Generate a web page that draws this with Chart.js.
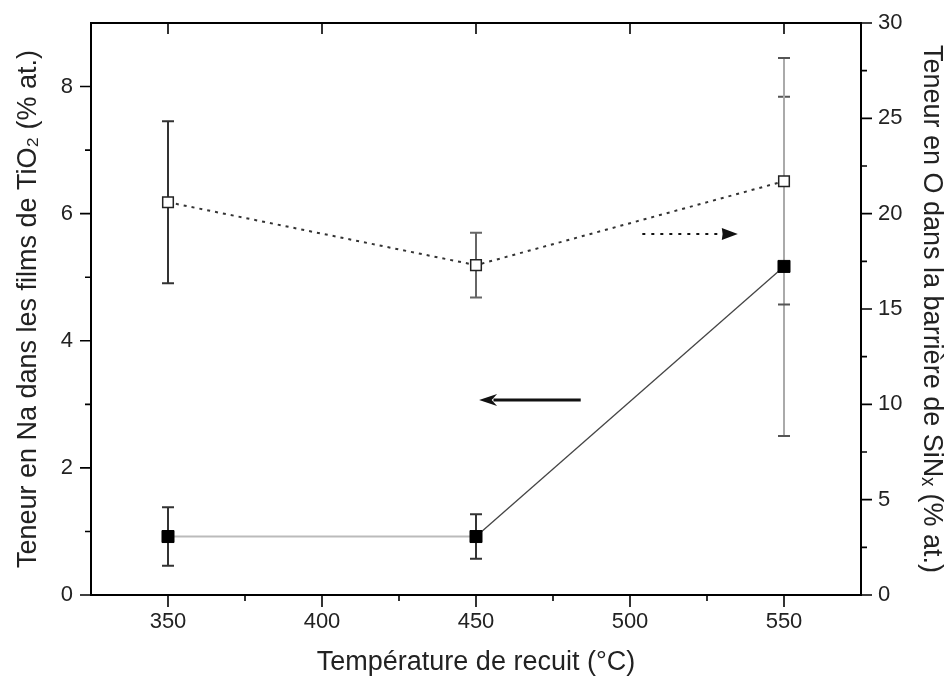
<!DOCTYPE html>
<html lang="fr">
<head>
    <meta charset="UTF-8">
    <title>Teneur en Na et O</title>
    <script src="https://cdn.jsdelivr.net/npm/chart.js"></script>
    <style>
        body { margin: 0; background: #fff; }
        #wrap { width: 949px; height: 682px; }
    </style>
</head>
<body>
    <div id="wrap"><canvas id="chart"></canvas></div>

    <script>
        // data
        var temps = [350, 450, 550];
        var naValues = [0.92, 0.92, 5.17];   // left axis, filled squares
        var naErrors = [0.46, 0.35, 2.67];
        var oValues = [20.6, 17.3, 21.7];    // right axis, open squares
        var oErrors = [4.25, 1.7, 6.47];

        // direction arrows (data coordinates: [x, y])
        var naArrow = [[484, 3.07], [451, 3.07]];
        var oArrow = [[504, 18.93], [535, 18.93]];

        // error bar colours
        var naErrColors = ['#333', '#333', '#aaa'];
        var oErrColors = ['#333', '#666', '#aaa'];

        var textColor = '#222';
        var fontName = '"Liberation Sans", Arial, sans-serif';

        function drawArrow(ctx, x0, y0, x1, y1, width, dash, headLen, headHalf, notch) {
            var dir = x1 > x0 ? 1 : -1;
            ctx.save();
            ctx.strokeStyle = '#111';
            ctx.fillStyle = '#111';
            ctx.lineWidth = width;
            ctx.setLineDash(dash);
            ctx.beginPath();
            ctx.moveTo(x0, y0);
            ctx.lineTo(x1 - dir * headLen * 0.8, y1);
            ctx.stroke();
            ctx.setLineDash([]);
            ctx.beginPath();
            ctx.moveTo(x1, y1);
            ctx.lineTo(x1 - dir * headLen, y1 - headHalf);
            ctx.lineTo(x1 - dir * headLen * notch, y1);
            ctx.lineTo(x1 - dir * headLen, y1 + headHalf);
            ctx.closePath();
            ctx.fill();
            ctx.restore();
        }

        function fixBox(w, h) {
            return function(s) {
                if (w) s.width = w;
                if (h) s.height = h;
                s.paddingTop = 0; s.paddingBottom = 0;
                s.paddingLeft = 0; s.paddingRight = 0;
            };
        }

        var extrasPlugin = {
            id: 'extras',
            beforeDatasetsDraw: function(chart) {
                var ctx = chart.ctx;
                var x = chart.scales.x;
                var bars = [
                    { scale: chart.scales.y, vals: naValues, errs: naErrors, colors: naErrColors },
                    { scale: chart.scales.y2, vals: oValues, errs: oErrors, colors: oErrColors }
                ];
                ctx.save();
                bars.forEach(function(b) {
                    temps.forEach(function(t, i) {
                        var px = x.getPixelForValue(t);
                        var top = b.scale.getPixelForValue(b.vals[i] + b.errs[i]);
                        var bot = b.scale.getPixelForValue(b.vals[i] - b.errs[i]);
                        ctx.strokeStyle = b.colors[i];
                        ctx.lineWidth = 2;
                        ctx.beginPath();
                        ctx.moveTo(px, top);
                        ctx.lineTo(px, bot);
                        ctx.stroke();
                        ctx.strokeStyle = i === 2 ? '#555' : b.colors[i];
                        ctx.beginPath();
                        ctx.moveTo(px - 6, top); ctx.lineTo(px + 6, top);
                        ctx.moveTo(px - 6, bot); ctx.lineTo(px + 6, bot);
                        ctx.stroke();
                    });
                });
                ctx.restore();
            },
            afterDraw: function(chart) {
                var ctx = chart.ctx;
                var area = chart.chartArea;
                var x = chart.scales.x, y = chart.scales.y, y2 = chart.scales.y2;
                ctx.save();
                ctx.strokeStyle = '#000';
                ctx.lineWidth = 2;
                // top frame
                ctx.beginPath();
                ctx.moveTo(area.left - 1, area.top);
                ctx.lineTo(area.right + 1, area.top);
                ctx.stroke();
                ctx.lineWidth = 1.6;
                ctx.beginPath();
                x.ticks.forEach(function(t) {
                    var px = x.getPixelForValue(t.value);
                    var major = t.value % 50 === 0;
                    if (t.value === x.min || t.value === x.max) return;
                    ctx.moveTo(px, area.bottom);
                    ctx.lineTo(px, area.bottom + (major ? 12 : 6));
                    if (major) {
                        ctx.moveTo(px, area.top);
                        ctx.lineTo(px, area.top + 11);
                    }
                });
                y.ticks.forEach(function(t) {
                    if (t.value === y.max) return;
                    var py = y.getPixelForValue(t.value);
                    var major = t.value % 2 === 0;
                    ctx.moveTo(area.left, py);
                    ctx.lineTo(area.left - (major ? 11 : 6), py);
                });
                y2.ticks.forEach(function(t) {
                    var py = y2.getPixelForValue(t.value);
                    var major = t.value % 5 === 0;
                    ctx.moveTo(area.right, py);
                    ctx.lineTo(area.right + (major ? 11 : 6), py);
                });
                ctx.stroke();
                ctx.restore();

                drawArrow(ctx, x.getPixelForValue(naArrow[0][0]), y.getPixelForValue(naArrow[0][1]),
                    x.getPixelForValue(naArrow[1][0]), y.getPixelForValue(naArrow[1][1]), 3, [], 18, 6, 0.7);
                drawArrow(ctx, x.getPixelForValue(oArrow[0][0]), y2.getPixelForValue(oArrow[0][1]),
                    x.getPixelForValue(oArrow[1][0]), y2.getPixelForValue(oArrow[1][1]), 2, [3, 6], 16, 6, 0.95);
            }
        };

        var ctx = document.getElementById('chart').getContext('2d');
        var chart = new Chart(ctx, {
            type: 'line',
            data: {
                datasets: [{
                    label: 'Na',
                    yAxisID: 'y',
                    data: temps.map(function(t, i) { return { x: t, y: naValues[i] }; }),
                    borderColor: '#444',
                    borderWidth: 1.3,
                    segment: {
                        borderColor: function(c) { return c.p0DataIndex === 0 ? '#bbb' : '#444'; },
                        borderWidth: function(c) { return c.p0DataIndex === 0 ? 2 : 1.3; }
                    },
                    pointStyle: 'rect',
                    pointRadius: 8.5,
                    pointBackgroundColor: '#000',
                    pointBorderColor: '#000',
                    pointBorderWidth: 1
                }, {
                    label: 'O',
                    yAxisID: 'y2',
                    data: temps.map(function(t, i) { return { x: t, y: oValues[i] }; }),
                    borderColor: '#333',
                    borderWidth: 2,
                    borderDash: [3, 5],
                    pointStyle: 'rect',
                    pointRadius: 7.5,
                    pointBackgroundColor: '#fff',
                    pointBorderColor: '#222',
                    pointBorderWidth: 1.5
                }]
            },
            options: {
                responsive: true,
                maintainAspectRatio: false,
                animation: false,
                layout: { padding: { top: 23, left: 0, right: 0, bottom: 0 } },
                plugins: { legend: { display: false }, tooltip: { enabled: false } },
                scales: {
                    x: {
                        type: 'linear',
                        min: 325, max: 575,
                        grid: { display: false, drawTicks: false },
                        border: { color: '#000', width: 2 },
                        ticks: {
                            stepSize: 25, autoSkip: false, maxRotation: 0, padding: 14,
                            color: textColor, font: { family: fontName, size: 22 },
                            callback: function(v) { return v % 50 === 0 ? v : ''; }
                        },
                        title: {
                            display: true, text: 'Température de recuit (°C)',
                            color: textColor, font: { family: fontName, size: 27 },
                            padding: { top: 0, bottom: 3 }
                        },
                        afterFit: fixBox(0, 87)
                    },
                    y: {
                        position: 'left',
                        min: 0, max: 9,
                        grid: { display: false, drawTicks: false },
                        border: { color: '#000', width: 2 },
                        ticks: {
                            stepSize: 1, autoSkip: false, padding: 18,
                            color: textColor, font: { family: fontName, size: 22 },
                            callback: function(v) { return v % 2 === 0 ? v : ''; }
                        },
                        title: {
                            display: true, text: 'Teneur en Na dans les films de TiO₂ (% at.)',
                            color: textColor, font: { family: fontName, size: 27 },
                            padding: { top: 12, bottom: 0 }
                        },
                        afterFit: fixBox(91, 0)
                    },
                    y2: {
                        position: 'right',
                        min: 0, max: 30,
                        grid: { display: false, drawTicks: false },
                        border: { color: '#000', width: 2 },
                        ticks: {
                            stepSize: 2.5, autoSkip: false, padding: 17,
                            color: textColor, font: { family: fontName, size: 22 },
                            callback: function(v) { return v % 5 === 0 ? v : ''; }
                        },
                        title: {
                            display: true, text: 'Teneur en O dans la barrière de SiNₓ (% at.)',
                            color: textColor, font: { family: fontName, size: 27 },
                            padding: { top: 1, bottom: 0 }
                        },
                        afterFit: fixBox(88, 0)
                    }
                }
            },
            plugins: [extrasPlugin]
        });
    </script>
</body>
</html>
